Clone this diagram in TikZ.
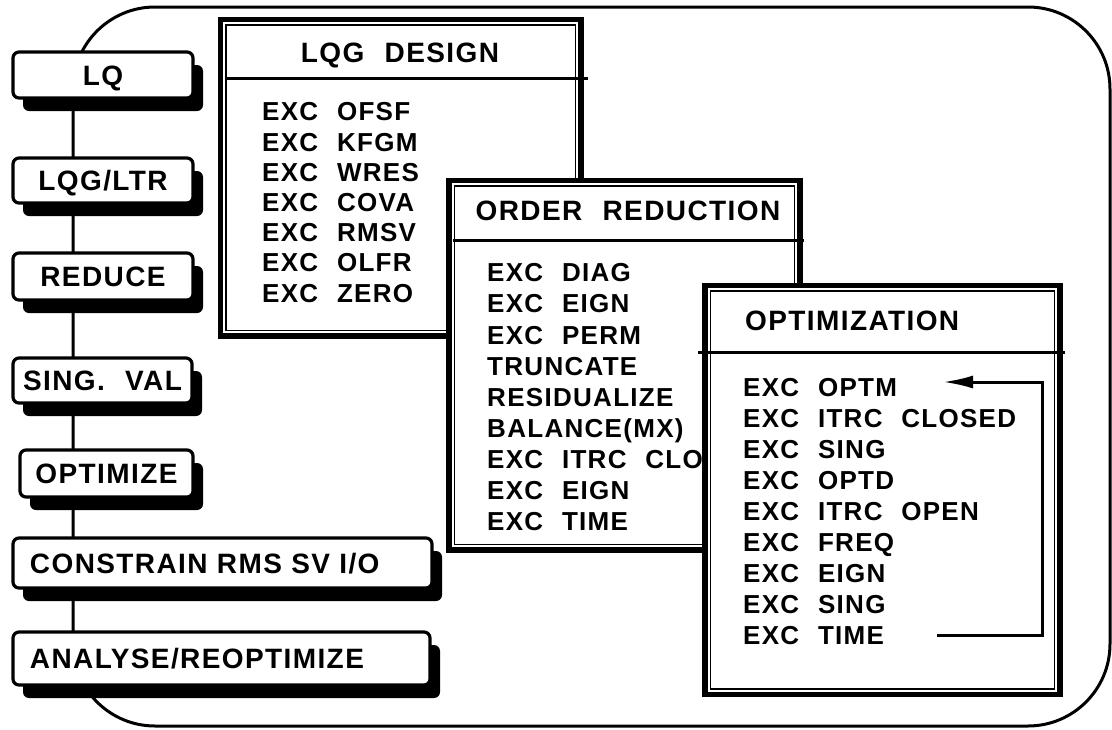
\documentclass[tikz,border=0pt]{standalone}
\usepackage{fontspec}
\setmainfont{Liberation Sans}
\newfontfamily\headfont{Liberation Sans}[LetterSpace=5,WordSpace=1.5]
\newfontfamily\listfont{Liberation Sans}[LetterSpace=5,WordSpace=2.2]
\definecolor{ink}{RGB}{0,0,0}
\usetikzlibrary{arrows.meta,shadows}

\begin{document}
\begin{tikzpicture}[x=1pt,y=-1pt,
    outerframe/.style={draw=ink, line width=3pt, rounded corners=82pt},
    button/.style={draw=ink, line width=3.2pt, rounded corners=6pt, fill=white,
      minimum width=180pt, minimum height=46pt, inner sep=0pt, outer sep=0pt,
      text height=20pt, text depth=0pt,
      drop shadow={shadow xshift=10pt, shadow yshift=-13pt, fill=ink, opacity=1},
      font=\headfont\bfseries\fontsize{28}{32}\selectfont},
    widebutton/.style={button, anchor=west, text width=385pt, inner xsep=17pt, align=left},
    window/.style={draw=ink, line width=5.5pt, fill=white, anchor=north west,
      inner sep=0pt, outer sep=0pt},
    innerline/.style={draw=ink, line width=1.5pt},
    headline/.style={draw=ink, line width=3pt},
    wtitle/.style={font=\headfont\bfseries\fontsize{28}{32}\selectfont,
      inner sep=0pt, text height=20pt, text depth=0pt},
    wlist/.style={font=\listfont\bfseries\fontsize{26}{#1}\selectfont,
      align=left, anchor=north west, inner sep=0pt},
    looparrow/.style={draw=ink, line width=3pt, -{Latex[length=30pt,width=13pt]}}]

  \useasboundingbox (0,0) rectangle (1112,729);

  % rounded frame, its left side runs down behind the buttons
  \draw[outerframe] (73,7) rectangle (1110,726);

  % LQG design window
  \node[window, minimum width=360.5pt, minimum height=316.5pt] (lqgwin) at (220.5,19.5) {};
  \draw[innerline] ([xshift=5.5pt,yshift=-5.5pt]lqgwin.north west) rectangle ([xshift=-5.5pt,yshift=5.5pt]lqgwin.south east);
  \draw[headline] ([xshift=6pt,yshift=-58.5pt]lqgwin.north west) -- ([xshift=7pt,yshift=-58.5pt]lqgwin.north east);
  \node[wtitle] (lqgtitle) at (400,52) {LQG DESIGN};
  \node[wlist=30.2] (lqglist) at (262,102.5) {EXC OFSF\\EXC KFGM\\EXC WRES\\EXC COVA\\EXC RMSV\\EXC OLFR\\EXC ZERO};

  % order reduction window
  \node[window, minimum width=351pt, minimum height=369.5pt] (ordwin) at (449,180.5) {};
  \draw[innerline] ([xshift=5.5pt,yshift=-5.5pt]ordwin.north west) rectangle ([xshift=-5.5pt,yshift=5.5pt]ordwin.south east);
  \draw[headline] ([xshift=4pt,yshift=-59.5pt]ordwin.north west) -- ([xshift=4pt,yshift=-59.5pt]ordwin.north east);
  \node[wtitle] (ordtitle) at (628,210) {ORDER REDUCTION};
  \node[wlist=31.1] (ordlist) at (487,263.5) {EXC DIAG\\EXC EIGN\\EXC PERM\\TRUNCATE\\RESIDUALIZE\\BALANCE(MX)\\EXC ITRC CLO\\EXC EIGN\\EXC TIME};

  % optimization window
  \node[window, minimum width=355pt, minimum height=409pt] (optwin) at (705,285.5) {};
  \draw[innerline] ([xshift=5.5pt,yshift=-5.5pt]optwin.north west) rectangle ([xshift=-5.5pt,yshift=5.5pt]optwin.south east);
  \draw[headline] ([xshift=-7pt,yshift=-66.5pt]optwin.north west) -- ([xshift=5pt,yshift=-66.5pt]optwin.north east);
  \node[wtitle, anchor=west] (opttitle) at (745,320) {OPTIMIZATION};
  \node[wlist=30.9] (optlist) at (743,378.5) {EXC OPTM\\EXC ITRC CLOSED\\EXC SING\\EXC OPTD\\EXC ITRC OPEN\\EXC FREQ\\EXC EIGN\\EXC SING\\EXC TIME};

  % loop back from TIME to OPTM
  \coordinate (timeend) at (937,635);
  \coordinate (optmend) at (943,382);
  \coordinate (loopedge) at (1042,0);
  \draw[looparrow] (timeend) -| (loopedge |- optmend) -- (optmend);

  % menu buttons
  \node[button] (lq) at (103,75) {LQ};
  \node[button, minimum height=45pt] (lqgltr) at (103,180.5) {LQG/LTR};
  \node[button, minimum height=47pt] (reduce) at (103,276.5) {REDUCE};
  \node[button, minimum width=179pt, minimum height=45pt] (singval) at (102.5,380.5) {SING. VAL};
  \node[button, minimum width=173pt, minimum height=47pt] (optimize) at (106.5,473.5) {OPTIMIZE};
  \node[widebutton, minimum height=50pt] (constrain) at (13,563) {CONSTRAIN RMS SV I/O};
  \node[widebutton, minimum height=53pt, text width=383pt] (analyse) at (13,658.5) {ANALYSE/REOPTIMIZE};
\end{tikzpicture}
\end{document}
